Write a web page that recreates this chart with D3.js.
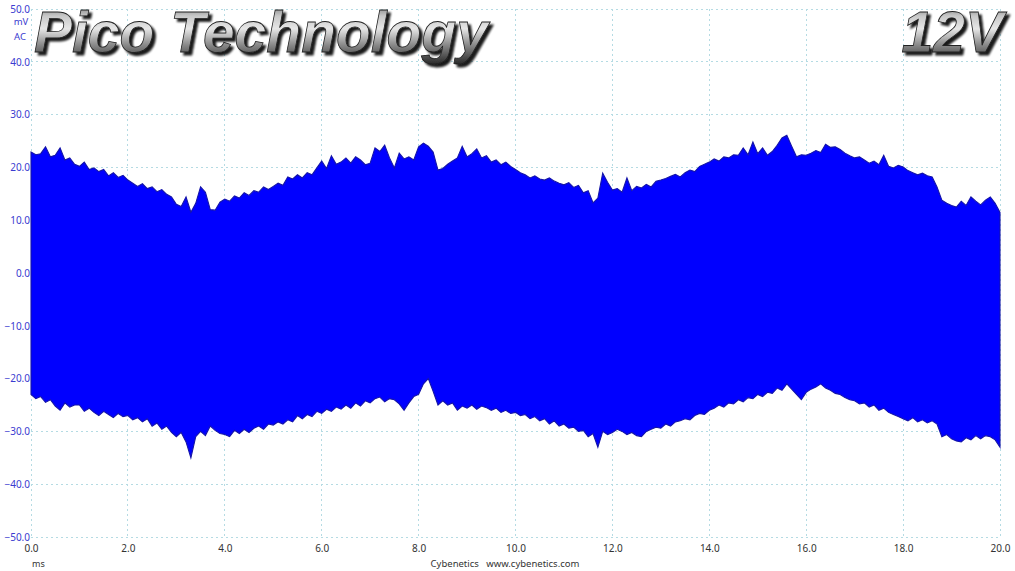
<!DOCTYPE html>
<html><head><meta charset="utf-8">
<script src="https://cdn.jsdelivr.net/npm/d3@7/dist/d3.min.js"></script>
<style>
html,body{margin:0;padding:0;background:#fff;}
svg{display:block;}
</style></head>
<body>
<script>
// ---- data ----
const titleText = "Pico Technology";
const railText = "12V";
const yUnit = "mV";
const yCoupling = "AC";
const xUnit = "ms";
const footer = "Cybenetics   www.cybenetics.com";
const xTicks = [0,2,4,6,8,10,12,14,16,18,20];
const yTicks = [50,40,30,20,10,0,-10,-20,-30,-40,-50];
const timeStart = 0;      // ms
const timeStep = 0.1;     // ms between samples
// upper envelope of the ripple (mV), one value per 0.1 ms
const upperEnvelope = [
 22.9,22.4,22.6,23.9,22.0,22.3,23.7,21.4,21.8,20.6,
 20.2,21.0,19.6,19.9,19.2,19.6,18.4,19.0,18.1,18.5,
 17.6,17.0,16.4,16.9,16.0,16.3,15.4,15.8,14.9,14.4,
 13.0,12.6,14.4,11.5,13.2,16.3,15.3,12.0,11.9,13.4,
 14.0,13.6,14.6,14.2,15.2,14.7,15.6,15.3,16.3,15.8,
 16.4,17.0,16.6,18.2,17.8,18.6,18.0,19.0,18.6,19.9,
 21.2,19.8,22.2,20.6,21.0,21.8,20.8,22.0,21.4,20.5,
 20.8,23.7,23.0,24.2,21.8,19.9,22.7,21.6,22.0,21.4,
 23.9,24.6,24.0,22.9,19.5,19.8,20.6,21.2,21.8,24.0,
 22.0,22.6,23.5,21.8,22.2,21.0,21.4,20.5,21.0,20.2,
 19.6,19.0,18.6,18.0,18.4,17.8,17.6,18.0,17.4,17.0,
 16.7,17.1,16.2,16.6,15.2,15.6,13.3,14.2,18.9,17.2,
 15.7,16.0,15.3,18.0,15.6,16.4,16.1,16.8,16.3,17.4,
 17.6,17.9,18.3,18.7,18.2,19.0,19.5,19.2,20.2,20.6,
 21.0,21.6,21.2,22.0,21.8,22.4,22.3,23.7,22.4,24.8,
 22.6,23.7,22.3,23.0,24.2,25.6,26.1,24.0,22.0,22.4,
 22.3,22.7,23.2,22.8,24.4,23.8,23.9,23.4,22.7,22.2,
 21.8,22.0,21.4,20.8,21.2,20.5,22.3,20.2,19.9,20.4,
 20.1,19.4,19.0,18.6,18.9,18.4,18.2,16.3,13.8,13.2,
 12.8,12.5,13.6,12.8,14.4,13.6,12.9,13.8,14.4,13.2,
 11.5
];
// lower envelope of the ripple (mV), one value per 0.1 ms
const lowerEnvelope = [
 -23.0,-23.8,-23.4,-24.5,-24.0,-25.2,-26.0,-24.6,-25.4,-25.0,
 -25.0,-26.2,-25.6,-26.4,-27.0,-26.2,-26.8,-27.4,-26.6,-27.2,
 -27.0,-27.8,-27.4,-28.2,-27.6,-29.0,-28.4,-29.6,-29.0,-30.2,
 -31.0,-30.2,-32.0,-35.0,-31.0,-30.0,-30.8,-29.0,-29.8,-30.4,
 -30.6,-31.0,-29.8,-30.4,-29.6,-30.2,-29.4,-29.0,-29.6,-28.6,
 -28.8,-28.2,-28.6,-27.8,-28.2,-27.0,-27.6,-26.8,-27.2,-26.2,
 -26.6,-25.8,-26.2,-25.4,-25.8,-25.0,-25.6,-24.6,-25.2,-24.2,
 -24.6,-23.8,-23.5,-24.4,-23.8,-24.0,-24.8,-26.0,-24.6,-23.4,
 -23.0,-21.0,-20.0,-22.4,-25.0,-24.2,-25.0,-24.6,-26.0,-25.2,
 -25.6,-25.0,-25.8,-25.2,-25.5,-26.0,-25.6,-26.4,-26.0,-26.6,
 -26.4,-27.0,-26.8,-27.6,-27.2,-28.0,-27.6,-28.6,-28.0,-29.0,
 -28.6,-29.4,-29.2,-30.0,-29.8,-31.0,-30.4,-33.0,-30.0,-30.6,
 -30.2,-29.6,-30.0,-30.6,-30.2,-30.8,-31.0,-30.0,-29.6,-29.2,
 -29.4,-28.6,-29.0,-28.2,-28.0,-27.6,-27.8,-27.0,-26.6,-26.8,
 -26.0,-25.6,-25.0,-25.4,-24.6,-24.8,-24.0,-24.4,-23.6,-23.8,
 -23.0,-23.4,-22.6,-22.8,-21.8,-22.2,-21.0,-22.0,-23.0,-24.0,
 -22.6,-22.0,-21.6,-21.0,-21.8,-22.2,-22.8,-23.0,-23.6,-24.0,
 -24.2,-24.8,-24.6,-25.4,-25.0,-26.0,-25.6,-26.4,-26.8,-27.2,
 -27.6,-28.0,-27.4,-28.2,-27.8,-28.4,-28.0,-28.6,-31.0,-30.6,
 -31.4,-31.8,-32.0,-31.2,-31.6,-30.8,-31.4,-30.8,-31.0,-31.6,
 -33.0
];

// ---- layout ----
const W = 1015, H = 571;
const plot = {left: 31, right: 1000, top: 9, bottom: 537};
const font = "'Noto Sans', 'Open Sans', sans-serif";

const svg = d3.select("body").append("svg").attr("width", W).attr("height", H);

const x = d3.scaleLinear().domain([0, 20]).range([plot.left, plot.right]);
const y = d3.scaleLinear().domain([-50, 50]).range([plot.bottom, plot.top]);

// grid
const gridColor = "#b5dbe3";
svg.append("g").selectAll("line.v").data(xTicks).join("line")
  .attr("x1", d => x(d)).attr("x2", d => x(d))
  .attr("y1", plot.top).attr("y2", plot.bottom)
  .attr("stroke", gridColor).attr("stroke-width", 1).attr("stroke-dasharray", "2,3")
  .attr("shape-rendering", "crispEdges");
svg.append("g").selectAll("line.h").data(yTicks).join("line")
  .attr("x1", plot.left).attr("x2", plot.right)
  .attr("y1", d => y(d)).attr("y2", d => y(d))
  .attr("stroke", gridColor).attr("stroke-width", 1).attr("stroke-dasharray", "2,3")
  .attr("shape-rendering", "crispEdges");

// waveform envelope
const samples = upperEnvelope.map((u, i) => ({t: timeStart + i * timeStep, hi: u, lo: lowerEnvelope[i]}));
const area = d3.area().x(d => x(d.t)).y0(d => y(d.lo)).y1(d => y(d.hi)).curve(d3.curveLinear);
svg.append("path").datum(samples).attr("d", area)
  .attr("fill", "#0000ff").attr("stroke", "#1414a8").attr("stroke-width", 1.1)
  .attr("stroke-linejoin", "miter");

// y tick labels
const yAxis = d3.axisLeft(y).tickValues(yTicks).tickSize(0).tickPadding(1).tickFormat(d3.format(".1f"));
const ya = svg.append("g").attr("transform", `translate(${plot.left},0)`).call(yAxis);
ya.select(".domain").remove();
ya.selectAll("text").attr("fill", "#3b3bd0").attr("font-family", font).attr("font-size", 10);

svg.append("text").attr("x", 21).attr("y", 25).attr("text-anchor", "middle")
  .attr("fill", "#3b3bd0").attr("font-family", font).attr("font-size", 9.5).text(yUnit);
svg.append("text").attr("x", 20).attr("y", 40).attr("text-anchor", "middle")
  .attr("fill", "#3b3bd0").attr("font-family", font).attr("font-size", 9.5).text(yCoupling);

// x tick labels
const xAxis = d3.axisBottom(x).tickValues(xTicks).tickSize(0).tickPadding(8).tickFormat(d3.format(".1f"));
const xa = svg.append("g").attr("transform", `translate(0,${plot.bottom})`).call(xAxis);
xa.select(".domain").remove();
xa.selectAll("text").attr("fill", "#333").attr("font-family", font).attr("font-size", 10);

svg.append("text").attr("x", 32).attr("y", 567).attr("fill", "#333")
  .attr("font-family", font).attr("font-size", 9).text(xUnit);
svg.append("text").attr("x", 505).attr("y", 567).attr("text-anchor", "middle").attr("fill", "#333")
  .attr("font-family", font).attr("font-size", 9.5).attr("xml:space", "preserve").style("white-space", "pre").text(footer);

// title styling
const defs = svg.append("defs");
const g = defs.append("linearGradient").attr("id", "metal").attr("x1", 0).attr("y1", 0).attr("x2", 0).attr("y2", 1);
[["0%", "#5a5a5a"], ["25%", "#c8c8c8"], ["45%", "#e6e6e6"], ["70%", "#8a8a8a"], ["100%", "#2a2a2a"]]
  .forEach(([o, c]) => g.append("stop").attr("offset", o).attr("stop-color", c));
const f = defs.append("filter").attr("id", "shadow").attr("x", "-5%").attr("y", "-20%").attr("width", "115%").attr("height", "150%");
f.append("feGaussianBlur").attr("in", "SourceAlpha").attr("stdDeviation", 1.2).attr("result", "blur");
f.append("feOffset").attr("in", "blur").attr("dx", 3).attr("dy", 3).attr("result", "off");
f.append("feComponentTransfer").attr("in", "off").attr("result", "shade")
  .append("feFuncA").attr("type", "linear").attr("slope", 0.9);
const m = f.append("feMerge");
m.append("feMergeNode").attr("in", "shade");
m.append("feMergeNode").attr("in", "SourceGraphic");

function bigText(txt, xpos, anchor) {
  svg.append("text").attr("x", xpos).attr("y", 52).attr("text-anchor", anchor)
    .attr("font-family", "'Liberation Sans', Arial, sans-serif").attr("font-weight", "bold").attr("font-style", "italic")
    .attr("font-size", 57).attr("fill", "url(#metal)").attr("stroke", "#222").attr("stroke-width", 0.8)
    .attr("filter", "url(#shadow)").text(txt);
}
bigText(titleText, 34, "start");
bigText(railText, 1003, "end");
</script>
</body></html>
